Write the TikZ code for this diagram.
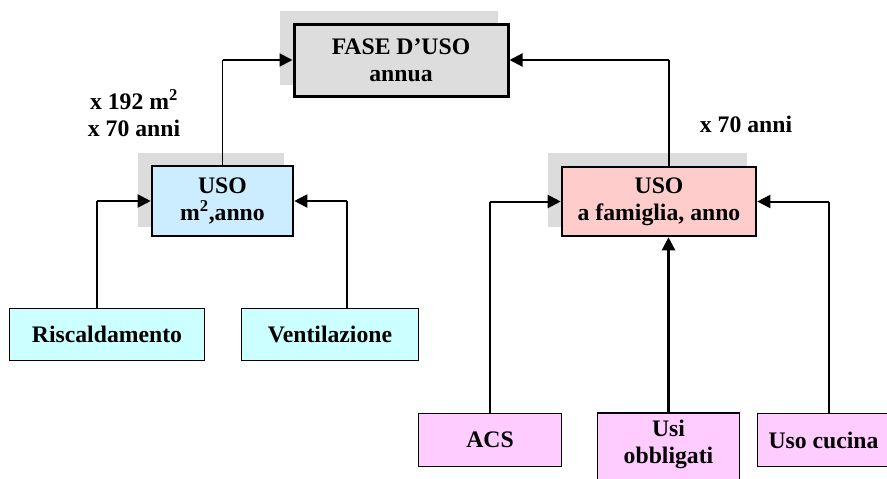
\documentclass[tikz,border=0pt]{standalone}
\usepackage{fontspec}
\setmainfont{Liberation Serif}
\usetikzlibrary{arrows.meta}
\definecolor{shadegrey}{HTML}{DCDCDC}
\definecolor{fasefill}{HTML}{DDDDDD}
\definecolor{bluefill}{HTML}{CCECFF}
\definecolor{pinkfill}{HTML}{FFCCCC}
\definecolor{cyanfill}{HTML}{CCFFFF}
\definecolor{magfill}{HTML}{FFCCFF}
\tikzset{
  boxbase/.style={draw=black, align=center, inner sep=0pt},
  mainbox/.style={boxbase, line width=2.6pt},
  leafbox/.style={boxbase, line width=1.2pt},
  vline/.style={line width=1.2pt},
  hline/.style={line width=2pt, -{Triangle[length=13pt,width=13pt]}},
  uline/.style={line width=2.4pt, -{Triangle[length=13pt,width=13pt]}},
  lab/.style={align=center, inner sep=0pt}
}
\begin{document}
\begin{tikzpicture}[x=1pt, y=-1pt, font=\fontsize{23.7}{27}\selectfont\bfseries]
\path[use as bounding box] (0,0) rectangle (887,479);
\clip (0,0) rectangle (887,479);
\fill[white] (0,0) rectangle (887,479);
% shadows
\fill[shadegrey] (280,11) rectangle (498,85);
\fill[shadegrey] (138,153) rectangle (284,227);
\fill[shadegrey] (548,153) rectangle (747,227);
% main boxes
\node[mainbox, fill=fasefill, line width=3pt, minimum width=214pt, minimum height=72pt] (fase) at (401,60) {FASE D’USO\\annua};
\node[mainbox, fill=bluefill, minimum width=141pt, minimum height=70pt] (blue) at (222.5,201) {USO\\m\textsuperscript{2},anno};
\node[mainbox, fill=pinkfill, minimum width=194pt, minimum height=69pt] (pink) at (659,201.5) {USO\\a famiglia, anno};
% leaf boxes
\node[leafbox, fill=cyanfill, minimum width=195pt, minimum height=52pt] (risc) at (107,334.5) {Riscaldamento};
\node[leafbox, fill=cyanfill, minimum width=177pt, minimum height=52pt] (vent) at (330,334.5) {Ventilazione};
\node[leafbox, fill=magfill, minimum width=143pt, minimum height=53pt] (acs) at (490,440) {ACS};
\node[leafbox, fill=magfill, minimum width=142pt, minimum height=72pt, text depth=14pt] (usi) at (668.5,449) {Usi\\obbligati};
\node[leafbox, fill=magfill, minimum width=132pt, minimum height=53pt] (cuc) at (823.5,440) {Uso cucina};
% labels
\node[lab] (lab1) at (134,113) {x 192 m\textsuperscript{2}\\x 70 anni};
\node[lab] (lab2) at (746,124) {x 70 anni};
% connectors to FASE
\draw[vline] (blue.north) -- (blue.north |- fase.west);
\draw[hline] (blue.north |- fase.west) -- (fase.west);
\coordinate (pk) at ([xshift=10pt]pink.north);
\draw[vline] (pk) -- (pk |- fase.east);
\draw[hline] (pk |- fase.east) -- (fase.east);
% connectors to blue
\coordinate (rk) at ([xshift=-10pt]risc.north);
\draw[vline] (rk) -- (rk |- blue.west);
\draw[hline] (rk |- blue.west) -- (blue.west);
\coordinate (vk) at ([xshift=17pt]vent.north);
\draw[vline] (vk) -- (vk |- blue.east);
\draw[hline] (vk |- blue.east) -- (blue.east);
% connectors to pink
\draw[vline] (acs.north) -- (acs.north |- pink.west);
\draw[hline] (acs.north |- pink.west) -- (pink.west);
\coordinate (ck) at ([xshift=5.5pt]cuc.north);
\draw[vline] (ck) -- (ck |- pink.east);
\draw[hline] (ck |- pink.east) -- (pink.east);
\draw[uline] (usi.north) -- (usi.north |- pink.south);
\end{tikzpicture}
\end{document}
